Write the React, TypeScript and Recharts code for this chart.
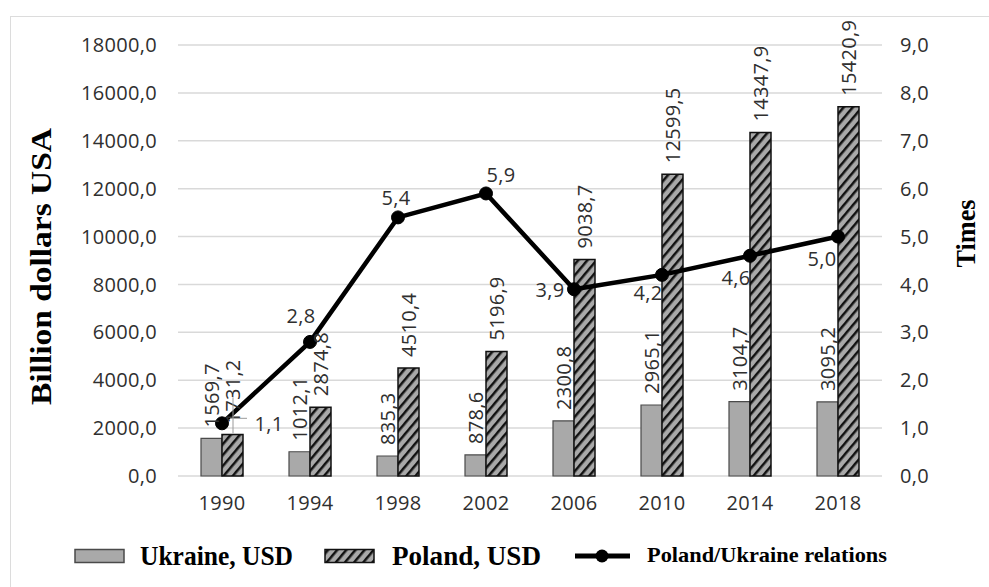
import React from "react";
import {
  ComposedChart,
  Bar,
  Line,
  XAxis,
  YAxis,
  CartesianGrid,
  LabelList,
  Legend,
  Label,
} from "recharts";

const years = ["1990", "1994", "1998", "2002", "2006", "2010", "2014", "2018"];
const ukraineUsd = [1569.7, 1012.1, 835.3, 878.6, 2300.8, 2965.1, 3104.7, 3095.2];
const polandUsd = [1731.2, 2874.8, 4510.4, 5196.9, 9038.7, 12599.5, 14347.9, 15420.9];
const polandToUkraine = [1.1, 2.8, 5.4, 5.9, 3.9, 4.2, 4.6, 5.0];
const usdTicks = [0, 2000, 4000, 6000, 8000, 10000, 12000, 14000, 16000, 18000];
const timesTicks = [0, 1, 2, 3, 4, 5, 6, 7, 8, 9];

// where each ratio label sits relative to its dot
const ratioLabelShift: [number, number][] = [
  [47, 0],
  [-9, -26],
  [-2, -20],
  [15, -19],
  [-24, 0],
  [-14, 18],
  [-14, 22],
  [-16, 22],
];

const data = years.map((year, i) => ({
  year,
  ukraine: ukraineUsd[i],
  poland: polandUsd[i],
  ratio: polandToUkraine[i],
}));

const fmt = (v: number) => v.toFixed(1).replace(".", ",");

const numFont = {
  fontFamily: "'Open Sans', sans-serif",
  fontSize: 20,
  fill: "#2f2f2f",
  letterSpacing: 0.3,
};

const titleFont = "'Liberation Serif', 'Times New Roman', serif";

const HatchDef = ({ id }: { id: string }) => (
  <pattern id={id} width="7" height="7" patternUnits="userSpaceOnUse" patternTransform="rotate(40)">
    <rect width="7" height="7" fill="#a9a9a9" />
    <line x1="0" y1="0" x2="0" y2="7" stroke="#111" strokeWidth="5" />
  </pattern>
);

const BarValue = (props: any) => {
  const { x, y, width, value } = props;
  const cx = x + width / 2;
  const cy = y - 11;
  return (
    <text
      x={cx}
      y={cy}
      transform={`rotate(-90 ${cx} ${cy})`}
      textAnchor="start"
      dominantBaseline="central"
      {...numFont}
    >
      {fmt(value)}
    </text>
  );
};

const RatioValue = (props: any) => {
  const { x, y, value, index } = props;
  const [dx, dy] = ratioLabelShift[index];
  return (
    <g>
      {index === 0 && (
        <g stroke="#9a9a9a" strokeWidth={1}>
          <line x1={x + 11} y1={y - 26} x2={x + 11} y2={y + 10} />
          <line x1={x + 8} y1={y - 5} x2={x + 25} y2={y - 5} />
        </g>
      )}
      <text x={x + dx} y={y + dy} textAnchor="middle" dominantBaseline="central" {...numFont}>
        {fmt(value)}
      </text>
    </g>
  );
};

const LeftTitle = (props: any) => {
  const { viewBox } = props;
  const cx = viewBox.x + 40;
  const cy = viewBox.y + viewBox.height / 2 + 6;
  return (
    <text
      x={cx}
      y={cy}
      transform={`rotate(-90 ${cx} ${cy})`}
      textAnchor="middle"
      dominantBaseline="central"
      fontFamily={titleFont}
      fontWeight="bold"
      fontSize={30}
      textLength={277}
      lengthAdjust="spacingAndGlyphs"
      fill="#000"
    >
      Billion dollars USA
    </text>
  );
};

const RightTitle = (props: any) => {
  const { viewBox } = props;
  const cx = viewBox.x + 83;
  const cy = viewBox.y + viewBox.height / 2 - 27;
  return (
    <text
      x={cx}
      y={cy}
      transform={`rotate(-90 ${cx} ${cy})`}
      textAnchor="middle"
      dominantBaseline="central"
      fontFamily={titleFont}
      fontWeight="bold"
      fontSize={28}
      textLength={68}
      lengthAdjust="spacingAndGlyphs"
      fill="#000"
    >
      Times
    </text>
  );
};

const LegendBox = () => (
  <svg width={989} height={40} style={{ display: "block" }}>
    <defs>
      <HatchDef id="hatchLegend" />
    </defs>
    <rect x={75} y={13.5} width={49} height={13} fill="#a9a9a9" stroke="#4a4a4a" strokeWidth={1.5} />
    <text
      x={140}
      y={20}
      dominantBaseline="central"
      fontFamily={titleFont}
      fontWeight="bold"
      fontSize={27}
      textLength={153}
      lengthAdjust="spacingAndGlyphs"
    >
      Ukraine, USD
    </text>
    <rect x={325} y={13.5} width={49} height={13} fill="url(#hatchLegend)" stroke="#111" strokeWidth={1.5} />
    <text
      x={392}
      y={20}
      dominantBaseline="central"
      fontFamily={titleFont}
      fontWeight="bold"
      fontSize={27}
      textLength={149}
      lengthAdjust="spacingAndGlyphs"
    >
      Poland, USD
    </text>
    <line x1={575} y1={20} x2={630} y2={20} stroke="#000" strokeWidth={5} />
    <circle cx={602} cy={20} r={6.5} fill="#000" />
    <text
      x={647}
      y={19}
      dominantBaseline="central"
      fontFamily={titleFont}
      fontWeight="bold"
      fontSize={21}
      textLength={240}
      lengthAdjust="spacingAndGlyphs"
    >
      Poland/Ukraine relations
    </text>
  </svg>
);

export default function App() {
  return (
    <div
      style={{
        position: "fixed",
        left: 0,
        top: 0,
        width: 989,
        height: 587,
        background: "#fff",
        overflow: "hidden",
      }}
    >
      <div
        style={{
          position: "absolute",
          left: 10,
          top: 16,
          right: 0,
          bottom: 0,
          borderLeft: "1.5px solid #dcdcdc",
          borderTop: "1.5px solid #dcdcdc",
        }}
      />
      <ComposedChart
        width={989}
        height={587}
        data={data}
        barGap={0}
        margin={{ top: 45, right: 0, bottom: 71, left: 0 }}
      >
        <defs>
          <HatchDef id="hatchPoland" />
        </defs>
        <CartesianGrid yAxisId="usd" vertical={false} stroke="#d9d9d9" strokeWidth={1.5} />
        <XAxis
          dataKey="year"
          axisLine={false}
          tickLine={false}
          tickSize={0}
          tickMargin={20}
          height={40}
          tick={numFont}
          interval={0}
        />
        <YAxis
          yAxisId="usd"
          orientation="left"
          width={178}
          domain={[0, 18000]}
          ticks={usdTicks}
          tickFormatter={fmt}
          axisLine={false}
          tickLine={false}
          tickSize={0}
          tickMargin={21}
          tick={numFont}
        >
          <Label content={LeftTitle} />
        </YAxis>
        <YAxis
          yAxisId="ratio"
          orientation="right"
          width={107}
          domain={[0, 9]}
          ticks={timesTicks}
          tickFormatter={fmt}
          axisLine={false}
          tickLine={false}
          tickSize={0}
          tickMargin={18}
          tick={numFont}
        >
          <Label content={RightTitle} />
        </YAxis>
        <Bar
          yAxisId="usd"
          dataKey="ukraine"
          barSize={21}
          fill="#a9a9a9"
          stroke="#4a4a4a"
          strokeWidth={1.2}
          isAnimationActive={false}
        >
          <LabelList dataKey="ukraine" content={BarValue} />
        </Bar>
        <Bar
          yAxisId="usd"
          dataKey="poland"
          barSize={21}
          fill="url(#hatchPoland)"
          stroke="#111"
          strokeWidth={1.5}
          isAnimationActive={false}
        >
          <LabelList dataKey="poland" content={BarValue} />
        </Bar>
        <Line
          yAxisId="ratio"
          dataKey="ratio"
          stroke="#000"
          strokeWidth={4.5}
          dot={{ r: 6.5, fill: "#000", stroke: "#000", strokeWidth: 1 }}
          isAnimationActive={false}
        >
          <LabelList dataKey="ratio" content={RatioValue} />
        </Line>
        <Legend
          verticalAlign="middle"
          align="center"
          content={LegendBox}
          wrapperStyle={{ top: 536, left: 0, width: 989, height: 40 }}
        />
      </ComposedChart>
    </div>
  );
}
